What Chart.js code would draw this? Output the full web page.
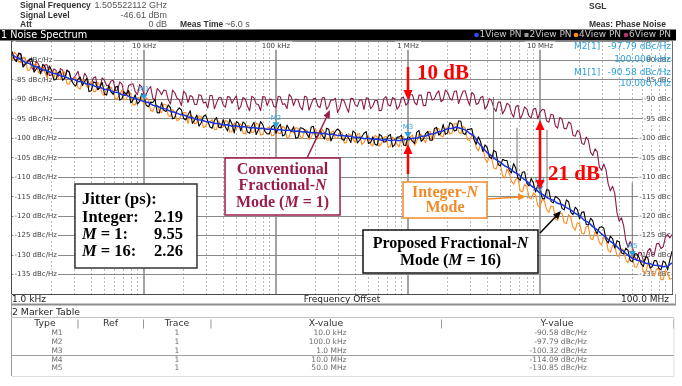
<!DOCTYPE html>
<html lang="en">
<head>
<meta charset="utf-8">
<title>Noise Spectrum</title>
<script src="https://cdn.jsdelivr.net/npm/chart.js@4.4.1/dist/chart.umd.min.js"></script>
<style>
  html, body { margin: 0; padding: 0; background: #fff; overflow: hidden; }
  canvas { display: block; }
</style>
</head>
<body>
<canvas id="pn" width="682" height="386"></canvas>
<script>
// ---------- measurement data ----------
// Averaged-trace frequency grid in kHz, 30 points per decade, 1 kHz … 100 MHz
const offsetKHz = [
  1, 1.08, 1.166, 1.259, 1.359, 1.468, 1.585, 1.711, 1.848, 1.995, 2.154, 2.326, 2.512, 2.712, 2.929, 3.162, 3.415, 3.687, 3.981, 4.299, 4.642, 5.012, 5.412, 5.843, 6.31, 6.813, 7.356, 7.943, 8.577, 9.261,
  10, 10.8, 11.66, 12.59, 13.59, 14.68, 15.85, 17.11, 18.48, 19.95, 21.54, 23.26, 25.12, 27.12, 29.29, 31.62, 34.15, 36.87, 39.81, 42.99, 46.42, 50.12, 54.12, 58.43, 63.1, 68.13, 73.56, 79.43, 85.77, 92.61,
  100, 108, 116.6, 125.9, 135.9, 146.8, 158.5, 171.1, 184.8, 199.5, 215.4, 232.6, 251.2, 271.2, 292.9, 316.2, 341.5, 368.7, 398.1, 429.9, 464.2, 501.2, 541.2, 584.3, 631, 681.3, 735.6, 794.3, 857.7, 926.1,
  1000, 1080, 1166, 1259, 1359, 1468, 1585, 1711, 1848, 1995, 2154, 2326, 2512, 2712, 2929, 3162, 3415, 3687, 3981, 4299, 4642, 5012, 5412, 5843, 6310, 6813, 7356, 7943, 8577, 9261,
  10000, 10800, 11660, 12590, 13590, 14680, 15850, 17110, 18480, 19950, 21540, 23260, 25120, 27120, 29290, 31620, 34150, 36870, 39810, 42990, 46420, 50120, 54120, 58430, 63100, 68130, 73560, 79430, 85770, 92610,
  100000
];

// Live-sweep frequency grid in kHz, 60 points per decade
const sweepKHz = [
  1, 1.039, 1.08, 1.122, 1.166, 1.212, 1.259, 1.308, 1.359, 1.413, 1.468, 1.525, 1.585, 1.647, 1.711, 1.778, 1.848, 1.92, 1.995, 2.073, 2.154, 2.239, 2.326, 2.418, 2.512, 2.61, 2.712, 2.818, 2.929, 3.043,
  3.162, 3.286, 3.415, 3.548, 3.687, 3.831, 3.981, 4.137, 4.299, 4.467, 4.642, 4.823, 5.012, 5.208, 5.412, 5.623, 5.843, 6.072, 6.31, 6.556, 6.813, 7.079, 7.356, 7.643, 7.943, 8.254, 8.577, 8.913, 9.261, 9.624,
  10, 10.39, 10.8, 11.22, 11.66, 12.12, 12.59, 13.08, 13.59, 14.13, 14.68, 15.25, 15.85, 16.47, 17.11, 17.78, 18.48, 19.2, 19.95, 20.73, 21.54, 22.39, 23.26, 24.18, 25.12, 26.1, 27.12, 28.18, 29.29, 30.43,
  31.62, 32.86, 34.15, 35.48, 36.87, 38.31, 39.81, 41.37, 42.99, 44.67, 46.42, 48.23, 50.12, 52.08, 54.12, 56.23, 58.43, 60.72, 63.1, 65.56, 68.13, 70.79, 73.56, 76.43, 79.43, 82.54, 85.77, 89.13, 92.61, 96.24,
  100, 103.9, 108, 112.2, 116.6, 121.2, 125.9, 130.8, 135.9, 141.3, 146.8, 152.5, 158.5, 164.7, 171.1, 177.8, 184.8, 192, 199.5, 207.3, 215.4, 223.9, 232.6, 241.8, 251.2, 261, 271.2, 281.8, 292.9, 304.3,
  316.2, 328.6, 341.5, 354.8, 368.7, 383.1, 398.1, 413.7, 429.9, 446.7, 464.2, 482.3, 501.2, 520.8, 541.2, 562.3, 584.3, 607.2, 631, 655.6, 681.3, 707.9, 735.6, 764.3, 794.3, 825.4, 857.7, 891.3, 926.1, 962.4,
  1000, 1039, 1080, 1122, 1166, 1212, 1259, 1308, 1359, 1413, 1468, 1525, 1585, 1647, 1711, 1778, 1848, 1920, 1995, 2073, 2154, 2239, 2326, 2418, 2512, 2610, 2712, 2818, 2929, 3043,
  3162, 3286, 3415, 3548, 3687, 3831, 3981, 4137, 4299, 4467, 4642, 4823, 5012, 5208, 5412, 5623, 5843, 6072, 6310, 6556, 6813, 7079, 7356, 7643, 7943, 8254, 8577, 8913, 9261, 9624,
  10000, 10390, 10800, 11220, 11660, 12120, 12590, 13080, 13590, 14130, 14680, 15250, 15850, 16470, 17110, 17780, 18480, 19200, 19950, 20730, 21540, 22390, 23260, 24180, 25120, 26100, 27120, 28180, 29290, 30430,
  31620, 32860, 34150, 35480, 36870, 38310, 39810, 41370, 42990, 44670, 46420, 48230, 50120, 52080, 54120, 56230, 58430, 60720, 63100, 65560, 68130, 70790, 73560, 76430, 79430, 82540, 85770, 89130, 92610, 96240,
  100000
];

// Trace 1 (proposed fractional-N, M = 16), averaged view, dBc/Hz
const trace1Avg = [
  -78.5, -79.2, -79.7, -80.5, -80.8, -81.5, -81.8, -82.4, -82.6, -83.2,
  -83.4, -83.9, -84.1, -84.7, -84.8, -85.4, -85.5, -86.1, -86.2, -86.7,
  -86.9, -87.4, -87.5, -88.1, -88.2, -88.8, -88.9, -89.5, -89.7, -90.2,
  -90.58, -90.8, -91.5, -91.7, -92.3, -92.5, -93.1, -93.3, -93.8, -94.0,
  -94.5, -94.7, -95.2, -95.3, -95.7, -95.8, -96.2, -96.2, -96.6, -96.5,
  -96.9, -96.8, -97.1, -97.0, -97.3, -97.2, -97.5, -97.4, -97.7, -97.6,
  -97.79, -97.8, -98.0, -97.9, -98.2, -98.1, -98.4, -98.3, -98.6, -98.5,
  -98.8, -98.7, -99.0, -98.9, -99.3, -99.2, -99.5, -99.5, -99.8, -99.7,
  -100.1, -100.0, -100.3, -100.2, -100.5, -100.3, -100.6, -100.4, -100.6, -100.3,
  -100.32, -100.0, -99.9, -99.5, -99.4, -98.9, -98.8, -98.3, -98.1, -97.5,
  -97.5, -97.1, -97.5, -97.8, -98.7, -99.4, -101.2, -102.4, -103.7, -104.5,
  -105.5, -106.2, -107.1, -107.6, -108.6, -109.2, -110.2, -111.0, -112.2, -113.0,
  -114.09, -114.7, -115.5, -115.9, -116.7, -117.0, -117.8, -118.4, -119.3, -119.9,
  -121.0, -121.6, -122.7, -123.5, -124.6, -125.4, -126.5, -127.3, -128.4, -129.0,
  -130.1, -130.85, -131.3, -131.5, -132.1, -132.2, -132.6, -132.7, -133.0, -132.9,
  -132.0
];

// Trace 1, live (unaveraged) sweep, dBc/Hz
const trace1Raw = [
  -77.7, -79.7, -80.3, -78.1, -78.3, -81.7, -81.0, -80.4, -79.8, -79.5, -83.0, -82.2, -81.5, -83.4, -81.0, -81.6, -83.7, -81.4, -82.5, -85.0,
  -84.9, -83.1, -82.8, -85.1, -84.5, -82.6, -83.0, -85.0, -86.1, -86.6, -84.8, -84.3, -86.4, -85.4, -84.6, -88.0, -87.8, -85.5, -85.7, -87.5,
  -86.8, -85.6, -88.6, -88.9, -86.4, -88.1, -88.7, -86.9, -86.6, -90.2, -89.8, -88.1, -88.7, -87.7, -90.9, -90.2, -88.8, -91.2, -90.5, -88.5,
  -89.2, -91.5, -91.9, -90.7, -90.8, -90.0, -93.4, -93.5, -90.8, -92.8, -93.1, -91.4, -92.1, -95.0, -94.7, -92.9, -92.2, -92.7, -94.9, -95.3,
  -94.0, -92.9, -96.2, -95.3, -94.0, -96.9, -96.0, -94.4, -94.0, -95.6, -97.1, -97.4, -95.4, -94.7, -97.2, -97.3, -95.2, -97.1, -98.1, -95.1,
  -96.3, -98.6, -95.7, -96.1, -98.1, -95.8, -96.3, -98.4, -98.7, -96.9, -95.9, -99.0, -97.8, -95.7, -96.5, -98.2, -98.9, -98.8, -97.1, -96.6,
  -98.7, -97.2, -96.4, -99.4, -99.1, -96.6, -97.7, -98.3, -97.0, -100.0, -99.8, -97.3, -97.4, -97.8, -98.9, -99.8, -97.1, -96.9, -99.7, -99.5,
  -98.0, -99.2, -100.2, -97.4, -97.7, -100.7, -99.3, -98.2, -97.6, -98.1, -100.3, -100.5, -99.0, -100.0, -101.1, -98.1, -98.6, -101.2, -100.5, -99.6,
  -98.7, -98.3, -101.3, -101.1, -99.6, -101.5, -101.8, -99.0, -99.4, -101.0, -100.8, -99.4, -99.0, -102.2, -101.6, -99.7, -99.7, -99.2, -101.7, -101.9,
  -99.4, -100.0, -100.7, -101.3, -98.4, -98.0, -100.8, -100.2, -98.8, -98.2, -100.5, -100.5, -97.5, -97.2, -99.2, -98.6, -96.4, -99.0, -98.6, -96.0,
  -96.3, -98.1, -97.9, -95.5, -95.6, -98.7, -99.0, -97.7, -97.7, -97.5, -100.3, -101.5, -99.6, -100.9, -103.4, -101.7, -102.4, -104.8, -105.2, -103.1,
  -103.5, -106.8, -107.1, -105.4, -105.7, -105.7, -108.2, -108.9, -106.5, -107.7, -110.2, -110.8, -108.7, -108.6, -111.5, -112.2, -110.3, -111.5, -113.8, -112.0,
  -112.5, -115.4, -115.6, -113.2, -113.3, -116.2, -116.6, -114.9, -115.3, -115.9, -118.0, -118.4, -115.8, -116.3, -119.0, -119.6, -117.7, -118.3, -120.7, -119.0,
  -118.9, -122.1, -122.3, -120.5, -121.2, -123.5, -124.5, -122.9, -122.7, -123.1, -126.0, -126.9, -125.1, -125.8, -128.2, -126.3, -126.6, -129.4, -129.7, -128.2,
  -128.8, -131.4, -131.7, -129.7, -129.7, -130.6, -132.3, -132.9, -130.4, -130.7, -133.3, -133.0, -131.4, -131.5, -133.4, -133.8, -131.5, -132.0, -133.8, -131.3,
  -129.0
];

// Trace 4 (integer-N mode), live sweep, dBc/Hz
const integerN = [
  -79.9, -77.8, -78.5, -80.4, -80.5, -79.5, -79.3, -82.5, -82.5, -81.1, -81.1, -80.8, -83.1, -83.5, -81.4, -83.1, -84.5, -81.6, -83.1, -84.8,
  -82.7, -84.7, -84.9, -82.9, -83.0, -86.0, -86.1, -84.6, -84.8, -84.3, -87.0, -87.4, -84.9, -85.3, -86.8, -86.9, -85.3, -88.0, -88.0, -85.6,
  -86.6, -88.5, -89.1, -87.2, -87.0, -86.8, -88.1, -89.9, -89.8, -88.6, -87.6, -90.1, -90.0, -87.9, -88.6, -91.4, -91.4, -89.6, -89.6, -89.6,
  -91.3, -89.6, -90.0, -92.8, -93.1, -91.6, -91.5, -93.1, -93.4, -91.2, -91.4, -94.2, -94.4, -92.6, -93.3, -95.5, -95.2, -93.7, -93.4, -93.4,
  -96.2, -94.0, -94.3, -96.3, -96.0, -94.2, -94.4, -97.3, -96.9, -95.7, -95.7, -95.2, -97.8, -97.7, -95.5, -97.3, -97.1, -95.4, -95.7, -98.4,
  -98.3, -96.0, -97.6, -96.8, -96.3, -98.7, -98.9, -96.7, -96.8, -98.5, -98.4, -96.1, -96.4, -99.2, -98.9, -97.6, -97.4, -97.0, -99.4, -99.2,
  -96.9, -98.7, -98.8, -96.9, -97.3, -99.9, -99.6, -97.7, -98.6, -97.3, -97.4, -99.6, -100.1, -97.8, -97.9, -100.3, -99.7, -98.5, -97.5, -99.9,
  -100.0, -97.6, -98.5, -100.4, -100.5, -98.5, -98.1, -100.0, -100.0, -98.3, -98.6, -101.2, -101.1, -98.8, -99.2, -100.2, -101.1, -98.9, -98.8, -101.6,
  -101.1, -99.8, -99.3, -101.5, -102.0, -99.2, -99.7, -102.0, -101.3, -99.8, -99.5, -102.4, -102.0, -99.7, -100.3, -101.5, -102.2, -99.5, -99.7, -101.9,
  -101.7, -99.7, -99.1, -101.8, -100.8, -98.8, -99.1, -100.2, -101.1, -98.5, -98.2, -100.5, -99.9, -97.4, -97.5, -99.4, -99.6, -97.4, -97.3, -98.9,
  -98.7, -96.3, -96.1, -98.4, -98.9, -96.9, -97.4, -100.3, -100.6, -99.2, -99.6, -102.4, -103.2, -101.5, -102.3, -105.1, -106.3, -104.4, -105.1, -107.6,
  -107.9, -106.4, -106.7, -109.6, -110.2, -107.9, -108.9, -111.0, -111.8, -110.5, -110.2, -113.5, -113.8, -111.8, -112.5, -115.1, -115.6, -114.0, -114.6, -117.3,
  -117.7, -115.6, -116.1, -118.3, -119.0, -117.4, -117.5, -120.6, -121.1, -119.2, -119.3, -121.7, -121.9, -119.6, -120.4, -122.9, -123.6, -121.7, -121.9, -124.4,
  -124.6, -122.7, -122.7, -125.8, -126.0, -124.1, -124.7, -126.8, -127.4, -125.3, -125.9, -128.8, -129.3, -127.5, -127.7, -130.2, -130.3, -128.4, -128.7, -131.2,
  -132.0, -130.1, -130.6, -133.0, -133.1, -131.5, -131.4, -134.3, -134.7, -132.3, -132.8, -135.0, -135.3, -133.5, -133.6, -136.3, -136.3, -134.0, -134.5, -136.2,
  -136.0
];

// Trace 6 (conventional fractional-N, M = 1), live sweep, dBc/Hz
const fracM1 = [
  -77.9, -79.5, -80.1, -78.3, -78.4, -81.2, -80.8, -80.1, -79.8, -81.9, -82.6, -80.1, -80.9, -82.3, -82.7, -81.1, -81.1, -83.9, -83.7, -82.2,
  -82.5, -84.1, -82.1, -82.5, -84.7, -82.4, -82.9, -85.3, -84.5, -83.8, -82.8, -85.2, -85.7, -83.3, -84.2, -85.9, -85.9, -84.5, -84.2, -87.5,
  -87.0, -84.5, -85.1, -86.5, -86.4, -85.3, -85.1, -87.7, -87.6, -85.5, -86.1, -89.0, -88.9, -86.5, -86.1, -86.0, -88.0, -88.8, -86.2, -86.8,
  -88.7, -88.7, -87.4, -86.7, -89.7, -90.2, -87.2, -87.8, -88.8, -87.6, -87.8, -90.0, -91.2, -87.6, -88.3, -89.7, -90.1, -91.6, -87.9, -88.5,
  -90.8, -89.0, -89.3, -91.3, -91.3, -88.8, -89.0, -90.9, -90.7, -92.2, -89.0, -89.0, -92.4, -90.9, -89.6, -89.5, -91.4, -92.0, -89.3, -89.4,
  -91.0, -89.9, -89.1, -92.6, -91.8, -89.5, -89.9, -91.7, -92.9, -89.2, -89.6, -91.2, -91.3, -92.9, -89.3, -89.4, -91.6, -90.0, -90.0, -91.8,
  -92.0, -89.2, -89.4, -91.3, -91.1, -92.4, -88.7, -89.4, -91.6, -89.9, -90.1, -91.9, -92.7, -89.2, -89.4, -92.8, -91.2, -89.8, -89.7, -91.7,
  -92.1, -89.6, -89.5, -92.6, -91.7, -90.1, -90.2, -89.7, -93.4, -92.2, -89.9, -90.4, -92.0, -93.3, -89.7, -89.8, -91.4, -91.8, -90.2, -90.1,
  -92.6, -89.6, -89.8, -92.4, -91.7, -90.3, -90.3, -92.9, -92.8, -89.8, -89.3, -91.4, -91.7, -89.5, -89.9, -92.5, -91.8, -89.7, -89.4, -91.5,
  -90.9, -88.8, -88.8, -90.8, -91.4, -88.9, -88.9, -91.6, -91.6, -88.2, -88.2, -90.2, -89.8, -88.5, -87.8, -90.6, -90.1, -87.6, -88.2, -89.7,
  -90.2, -88.0, -87.8, -91.1, -89.4, -87.9, -87.8, -89.9, -91.5, -88.2, -88.8, -91.3, -91.0, -89.5, -89.2, -92.5, -91.6, -89.8, -90.3, -92.2,
  -93.1, -90.7, -90.7, -93.7, -92.7, -91.0, -91.4, -93.4, -94.6, -91.9, -91.5, -95.0, -93.9, -91.9, -92.5, -94.3, -94.7, -92.5, -92.3, -95.0,
  -93.3, -92.6, -92.7, -95.5, -95.9, -93.8, -94.0, -96.8, -97.4, -94.6, -95.1, -97.5, -97.5, -95.8, -96.2, -99.2, -99.5, -98.0, -98.4, -101.3,
  -101.6, -99.7, -100.5, -103.6, -104.4, -102.7, -103.4, -107.4, -108.2, -106.6, -108.1, -111.7, -113.5, -112.3, -114.2, -119.1, -121.3, -120.4, -122.4, -126.2,
  -128.0, -126.5, -127.8, -130.5, -131.3, -129.3, -129.4, -131.5, -131.0, -128.9, -128.3, -130.0, -129.7, -127.1, -127.0, -128.3, -127.9, -125.4, -124.7, -125.6,
  -124.7
];

// Discrete spurs on the live sweep: frequency, peak level and foot level
const spurKHz  = [4450, 6700, 11300, 50000];
const spurTop  = [-89.4, -97.3, -97.8, -111.4];
const spurFoot = [-105.5, -108.5, -115.5, -130.5];

// Marker table
const markerNames = ['M1', 'M2', 'M3', 'M4', 'M5'];
const markerKHz   = [10, 100, 1000, 10000, 50000];
const markerDbc   = [-90.58, -97.79, -100.32, -114.09, -130.85];

// RMS jitter summary (ps)
const jitterPs = [2.19, 9.55, 2.26];

// Axis ranges and tick labels
const levelMin = -140, levelMax = -75, levelStep = 5;
const freqMinKHz = 1, freqMaxKHz = 100000;
const decadeLabels = { 10: '10 kHz', 100: '100 kHz', 1000: '1 MHz', 10000: '10 MHz' };

// ---------- styling ----------
const COL = {
  blue: '#1b36d8', black: '#000000', orange: '#ff8c1f', maroon: '#8c1a4c', spur: '#777777',
  hgrid: '#8a8a8a', minor: '#b8b8b8', major: '#a4a4a4', cyan: '#2aa0dc', red: '#ff0000',
  conv: '#9b1c4c', integer: '#f28b2a', label: '#3c3c3c'
};
const UI = '"DejaVu Sans", "Liberation Sans", sans-serif';
const ARIAL = '"Liberation Sans", Arial, sans-serif';

// Callout geometry: anchors in data units (kHz, dBc/Hz), box sizes in px
const callouts = {
  jitter:       { kHz: 3.0,   dbc: -111.74, w: 122, h: 84 },
  conventional: { kHz: 41.1,  dbc: -105.06, w: 115, h: 57, from: [171.7, -105.06], to: [256.6, -92.73] },
  integer:      { kHz: 916.7, dbc: -111.23, w: 84,  h: 36, from: [3967, -115.6],   to: [7832, -114.95] },
  proposed:     { kHz: 456.1, dbc: -123.56, w: 175, h: 43, from: [10000, -124.33], to: [14426, -118.68] }
};
const gapArrows = [
  { kHz: 1000,  from: -81.68,  to: -90.16 },
  { kHz: 1000,  from: -109.17, to: -101.46 },
  { kHz: 10000, from: -95.30,  to: -113.28, both: true }
];
const gapLabels = [
  { text: '10 dB', kHz: 1170,  dbc: -83.48 },
  { text: '21 dB', kHz: 11497, dbc: -109.30 }
];

// ---------- helpers ----------
const gridKHz = [];
[1, 10, 100, 1000, 10000].forEach(d => { for (let m = 1; m <= 9; m++) gridKHz.push(m * d); });
gridKHz.push(100000);

function isDecade(v) { const l = Math.log10(v); return Math.abs(l - Math.round(l)) < 1e-6; }
const pts = (freqs, arr) => freqs.map((f, i) => ({ x: f, y: arr[i] }));
function fmtFreq(k) { return k < 1000 ? k.toFixed(1) + ' kHz' : (k / 1000).toFixed(1) + ' MHz'; }

function txt(c, s, x, y, font, color, align, base) {
  c.font = font; c.fillStyle = color; c.textAlign = align || 'left'; c.textBaseline = base || 'middle';
  c.fillText(s, x, y);
}
function serif(size, italic) {
  return (italic ? 'italic ' : '') + 'bold ' + size + 'px "Liberation Serif", "Times New Roman", serif';
}
function rich(c, parts, x, y, size, color, align) {
  let w = 0;
  parts.forEach(p => { c.font = serif(size, p[1]); w += c.measureText(p[0]).width; });
  let cx = align === 'center' ? x - w / 2 : (align === 'right' ? x - w : x);
  c.fillStyle = color; c.textAlign = 'left'; c.textBaseline = 'middle';
  parts.forEach(p => { c.font = serif(size, p[1]); c.fillText(p[0], cx, y); cx += c.measureText(p[0]).width; });
}
function arrowHead(c, x1, y1, x2, y2, len, half) {
  const a = Math.atan2(y2 - y1, x2 - x1);
  c.beginPath();
  c.moveTo(x2, y2);
  c.lineTo(x2 - len * Math.cos(a) + half * Math.sin(a), y2 - len * Math.sin(a) - half * Math.cos(a));
  c.lineTo(x2 - len * Math.cos(a) - half * Math.sin(a), y2 - len * Math.sin(a) + half * Math.cos(a));
  c.closePath(); c.fill();
}
function arrow(c, x1, y1, x2, y2, color, width, len, half, both) {
  const a = Math.atan2(y2 - y1, x2 - x1);
  const sx = both ? x1 + len * 0.8 * Math.cos(a) : x1, sy = both ? y1 + len * 0.8 * Math.sin(a) : y1;
  c.strokeStyle = color; c.fillStyle = color; c.lineWidth = width; c.lineCap = 'butt';
  c.beginPath(); c.moveTo(sx, sy); c.lineTo(x2 - len * 0.8 * Math.cos(a), y2 - len * 0.8 * Math.sin(a)); c.stroke();
  arrowHead(c, x1, y1, x2, y2, len, half);
  if (both) arrowHead(c, x2, y2, x1, y1, len, half);
}
function box(c, x, y, w, h, stroke) {
  c.fillStyle = '#fff'; c.fillRect(x, y, w, h);
  c.lineWidth = 1.5; c.strokeStyle = stroke; c.strokeRect(x, y, w, h);
}
function hline(c, x1, x2, y, color, w) { c.strokeStyle = color; c.lineWidth = w; c.beginPath(); c.moveTo(x1, y); c.lineTo(x2, y); c.stroke(); }
function vline(c, x, y1, y2, color, w) { c.strokeStyle = color; c.lineWidth = w; c.beginPath(); c.moveTo(x, y1); c.lineTo(x, y2); c.stroke(); }

// ---------- analyzer screen furniture ----------
const screenPlugin = {
  id: 'screen',
  beforeDraw(chart) {
    const c = chart.ctx;
    c.save(); c.fillStyle = '#fff'; c.fillRect(0, 0, chart.width, chart.height); c.restore();
  },
  afterDatasetsDraw(chart) {
    const c = chart.ctx, xs = chart.scales.x, ys = chart.scales.y;
    const X = k => xs.getPixelForValue(k), Y = v => ys.getPixelForValue(v);
    c.save();

    // marker triangles
    markerKHz.forEach((f, k) => {
      const px = X(f), py = Y(markerDbc[k]);
      c.fillStyle = COL.cyan;
      c.beginPath(); c.moveTo(px, py - 1.5); c.lineTo(px - 3.5, py - 7.5); c.lineTo(px + 3.5, py - 7.5); c.closePath(); c.fill();
      txt(c, markerNames[k], px, py - 12, '7px ' + UI, COL.cyan, 'center');
    });

    // marker readouts, upper right
    [[1, 47, 60], [0, 72.5, 84]].forEach(([k, y1, y2]) => {
      txt(c, markerNames[k] + '[1]', 574, y1, '9px ' + UI, COL.cyan, 'left');
      txt(c, markerDbc[k].toFixed(2) + ' dBc/Hz', 671, y1, '9px ' + UI, COL.cyan, 'right');
      txt(c, markerKHz[k].toFixed(3) + ' kHz', 671, y2, '9px ' + UI, COL.cyan, 'right');
    });

    // level-difference arrows and labels
    gapArrows.forEach(g => {
      arrow(c, X(g.kHz), Y(g.from), X(g.kHz), Y(g.to), COL.red, 2.5, 10, 4.5, g.both);
    });
    gapLabels.forEach(g => {
      c.font = serif(21, false); c.fillStyle = COL.red; c.textAlign = 'left'; c.textBaseline = 'middle';
      c.fillText(g.text, X(g.kHz), Y(g.dbc));
    });

    // callout pointers
    const co = callouts;
    arrow(c, X(co.conventional.from[0]), Y(co.conventional.from[1]), X(co.conventional.to[0]), Y(co.conventional.to[1]), COL.conv, 1.5, 8, 3.5);
    arrow(c, X(co.integer.from[0]), Y(co.integer.from[1]), X(co.integer.to[0]), Y(co.integer.to[1]), COL.integer, 1.5, 8, 3.5);
    arrow(c, X(co.proposed.from[0]), Y(co.proposed.from[1]), X(co.proposed.to[0]), Y(co.proposed.to[1]), '#000', 1.5, 8, 3.5);

    // jitter summary
    let b = co.jitter, bx = X(b.kHz), by = Y(b.dbc);
    box(c, bx, by, b.w, b.h, '#333');
    rich(c, [['Jitter (ps):', false]], bx + 7, by + 16, 16.5, '#000', 'left');
    const rows = [[['Integer:', false]], [['M', true], [' = 1:', false]], [['M', true], [' = 16:', false]]];
    rows.forEach((r, k) => {
      rich(c, r, bx + 7, by + 33.5 + k * 17.3, 16.5, '#000', 'left');
      rich(c, [[jitterPs[k].toFixed(2), false]], bx + 108, by + 33.5 + k * 17.3, 16.5, '#000', 'right');
    });

    // conventional fractional-N callout
    b = co.conventional; bx = X(b.kHz); by = Y(b.dbc);
    box(c, bx, by, b.w, b.h, COL.conv);
    rich(c, [['Conventional', false]], bx + b.w / 2, by + 12, 16, COL.conv, 'center');
    rich(c, [['Fractional-', false], ['N', true]], bx + b.w / 2, by + 28, 16, COL.conv, 'center');
    rich(c, [['Mode (', false], ['M', true], [' = 1)', false]], bx + b.w / 2, by + 44.5, 16, COL.conv, 'center');

    // integer-N callout
    b = co.integer; bx = X(b.kHz); by = Y(b.dbc);
    box(c, bx, by, b.w, b.h, COL.integer);
    rich(c, [['Integer-', false], ['N', true]], bx + b.w / 2, by + 10.5, 16, COL.integer, 'center');
    rich(c, [['Mode', false]], bx + b.w / 2, by + 25.5, 16, COL.integer, 'center');

    // proposed fractional-N callout
    b = co.proposed; bx = X(b.kHz); by = Y(b.dbc);
    box(c, bx, by, b.w, b.h, '#111');
    rich(c, [['Proposed Fractional-', false], ['N', true]], bx + b.w / 2, by + 14, 16, '#000', 'center');
    rich(c, [['Mode (', false], ['M', true], [' = 16)', false]], bx + b.w / 2, by + 30.5, 16, '#000', 'center');

    c.restore();
  },
  afterDraw(chart) {
    const c = chart.ctx, a = chart.chartArea;
    c.save();

    // measurement header
    const lab = 'bold 8.5px ' + ARIAL, val = '9px ' + ARIAL;
    txt(c, 'Signal Frequency', 20, 6, lab, '#333');
    txt(c, '1.505522112 GHz', 167, 6, val, '#555', 'right');
    txt(c, 'Signal Level', 20, 15.5, lab, '#333');
    txt(c, '-46.61 dBm', 167, 15.5, val, '#555', 'right');
    txt(c, 'Att', 20, 24.5, lab, '#333');
    txt(c, '0 dB', 167, 24.5, val, '#555', 'right');
    txt(c, 'Meas Time', 180, 24.5, lab, '#333');
    txt(c, '~6.0 s', 225, 24.5, val, '#555');
    txt(c, 'SGL', 589, 7, lab, '#333');
    txt(c, 'Meas: Phase Noise', 589, 25, lab, '#333');

    // window title bar with trace legend
    c.fillStyle = '#000'; c.fillRect(0, 29.5, 676, 11);
    txt(c, '1 Noise Spectrum', 1, 35, '9.7px ' + UI, '#fff');
    const leg = [['1View PN', '#2a4cff', 'dot', 476.5], ['2View PN', '#9a9a9a', 'sq', 526.5],
                 ['4View PN', COL.orange, 'dot', 576], ['6View PN', '#b8306e', 'dot', 626]];
    leg.forEach(([t, col, shape, x]) => {
      c.fillStyle = col;
      if (shape === 'dot') { c.beginPath(); c.arc(x, 35, 2.3, 0, Math.PI * 2); c.fill(); }
      else c.fillRect(x - 2, 33, 4, 4);
      txt(c, t, x + 3, 35, '9px ' + UI, '#c8c8c8');
    });

    // plot frame
    vline(c, a.left - 0.5, 40.5, a.bottom, '#4a4a4a', 1);
    vline(c, a.right + 0.5, 40.5, a.bottom, '#6a6a6a', 1);
    hline(c, a.left - 1, a.right + 1, a.bottom + 0.5, '#4a4a4a', 1);

    // frequency axis footer
    txt(c, fmtFreq(freqMinKHz), 12, 299.5, '9px ' + UI, '#222');
    txt(c, 'Frequency Offset', (a.left + a.right) / 2, 299.5, '9px ' + UI, '#222', 'center');
    txt(c, fmtFreq(freqMaxKHz), 669, 299.5, '9px ' + UI, '#222', 'right');
    hline(c, 11, 676, 304.5, '#8c8c8c', 2);
    vline(c, 11.5, 294, 376, '#9a9a9a', 1);
    vline(c, 675.5, 294, 305, '#9a9a9a', 1);

    // marker table
    txt(c, '2 Marker Table', 12, 312.5, '9.3px ' + UI, '#222');
    hline(c, 11, 674, 317.5, '#c4c4c4', 1);
    const head = '9.3px ' + UI;
    txt(c, 'Type', 45, 324, head, '#333', 'center');
    txt(c, 'Ref', 110.5, 324, head, '#333', 'center');
    txt(c, 'Trace', 177, 324, head, '#333', 'center');
    txt(c, 'X-value', 326, 324, head, '#333', 'center');
    txt(c, 'Y-value', 557, 324, head, '#333', 'center');
    [78, 143.5, 211, 441.5, 673.5].forEach(x => vline(c, x, 319.5, 328.5, '#999', 1));
    const rowY = [333, 341.8, 350.6, 359.6, 368.4];
    const cell = '7.5px ' + UI;
    markerNames.forEach((m, k) => {
      txt(c, m, 57, rowY[k], cell, '#6c6c6c', 'center');
      txt(c, '1', 177, rowY[k], cell, '#6c6c6c', 'center');
      txt(c, fmtFreq(markerKHz[k]), 346.5, rowY[k], cell, '#6c6c6c', 'right');
      txt(c, markerDbc[k].toFixed(2) + ' dBc/Hz', 587, rowY[k], cell, '#6c6c6c', 'right');
    });
    hline(c, 12, 674, 355.5, '#a0a0a0', 1);
    hline(c, 12, 674, 376.5, '#dddddd', 1);
    vline(c, 674, 318, 376, '#dddddd', 1);

    c.restore();
  }
};

// ---------- chart ----------
const spurPts = [];
spurKHz.forEach((f, k) => { spurPts.push({ x: f, y: spurFoot[k] }, { x: f, y: spurTop[k] }, { x: f, y: null }); });

const lineDefaults = { pointRadius: 0, borderJoinStyle: 'round', tension: 0, xAxisID: 'x', yAxisID: 'y', spanGaps: false };

new Chart(document.getElementById('pn'), {
  type: 'line',
  data: {
    datasets: [
      Object.assign({ label: '1View PN (avg)', data: pts(offsetKHz, trace1Avg), borderColor: COL.blue, borderWidth: 1.5, order: 0 }, lineDefaults),
      Object.assign({ label: '1View PN', data: pts(sweepKHz, trace1Raw), borderColor: COL.black, borderWidth: 1.1, order: 1 }, lineDefaults),
      Object.assign({ label: 'spurs', data: spurPts, borderColor: COL.spur, borderWidth: 1, order: 2 }, lineDefaults),
      Object.assign({ label: '4View PN', data: pts(sweepKHz, integerN), borderColor: COL.orange, borderWidth: 1.1, order: 3 }, lineDefaults),
      Object.assign({ label: '6View PN', data: pts(sweepKHz, fracM1), borderColor: COL.maroon, borderWidth: 1.1, order: 4 }, lineDefaults)
    ]
  },
  options: {
    responsive: false,
    animation: false,
    devicePixelRatio: 1,
    layout: { padding: { left: 12, top: 41, right: 10, bottom: 92 } },
    plugins: { legend: { display: false }, tooltip: { enabled: false } },
    scales: {
      x: {
        type: 'logarithmic', axis: 'x', position: 'bottom', min: freqMinKHz, max: freqMaxKHz,
        afterBuildTicks: s => { s.ticks = gridKHz.map(v => ({ value: v })); },
        afterFit: s => { s.height = 0; },
        ticks: { display: false },
        grid: {
          drawTicks: false, lineWidth: 1,
          color: ctx => (ctx.tick && !isDecade(ctx.tick.value)) ? COL.minor : 'rgba(0,0,0,0)'
        },
        border: { display: false, dash: [2, 2] }
      },
      xMajor: {
        type: 'logarithmic', axis: 'x', position: 'top', min: freqMinKHz, max: freqMaxKHz,
        afterBuildTicks: s => { s.ticks = gridKHz.map(v => ({ value: v })); },
        afterFit: s => { s.height = 0; },
        ticks: {
          autoSkip: false, maxRotation: 0, minRotation: 0, padding: 0.5, mirror: true,
          font: { family: UI, size: 7 }, color: COL.label,
          showLabelBackdrop: true, backdropColor: '#fff', backdropPadding: 0,
          callback: v => decadeLabels[v] ? ' ' + decadeLabels[v] + ' ' : ''
        },
        grid: {
          drawTicks: false,
          lineWidth: 2,
          color: ctx => (ctx.tick && isDecade(ctx.tick.value) && ctx.tick.value > freqMinKHz && ctx.tick.value < freqMaxKHz) ? COL.major : 'rgba(0,0,0,0)'
        },
        border: { display: false }
      },
      y: {
        type: 'linear', axis: 'y', position: 'left', min: levelMin, max: levelMax,
        afterFit: s => { s.width = 0; },
        ticks: {
          stepSize: levelStep, mirror: true, padding: 2.5,
          font: { family: UI, size: 7 }, color: COL.label,
          showLabelBackdrop: true, backdropColor: '#fff', backdropPadding: { left: 1, right: 1, top: 0, bottom: 0 },
          callback: v => (v <= -80 && v >= -135) ? v + ' dBc/Hz' : ''
        },
        grid: { drawTicks: false, color: COL.hgrid, lineWidth: 1 },
        border: { display: false }
      },
      yRight: {
        type: 'linear', axis: 'y', position: 'right', min: levelMin, max: levelMax,
        afterFit: s => { s.width = 0; },
        ticks: {
          stepSize: levelStep, mirror: true, padding: -1.5,
          font: { family: UI, size: 7 }, color: COL.label,
          showLabelBackdrop: true, backdropColor: '#fff', backdropPadding: { left: 1, right: 1, top: 0, bottom: 0 },
          callback: v => (v <= -80 && v >= -135) ? v + ' dBc' : ''
        },
        grid: { display: false, drawTicks: false },
        border: { display: false }
      }
    }
  },
  plugins: [screenPlugin]
});
</script>
</body>
</html>
